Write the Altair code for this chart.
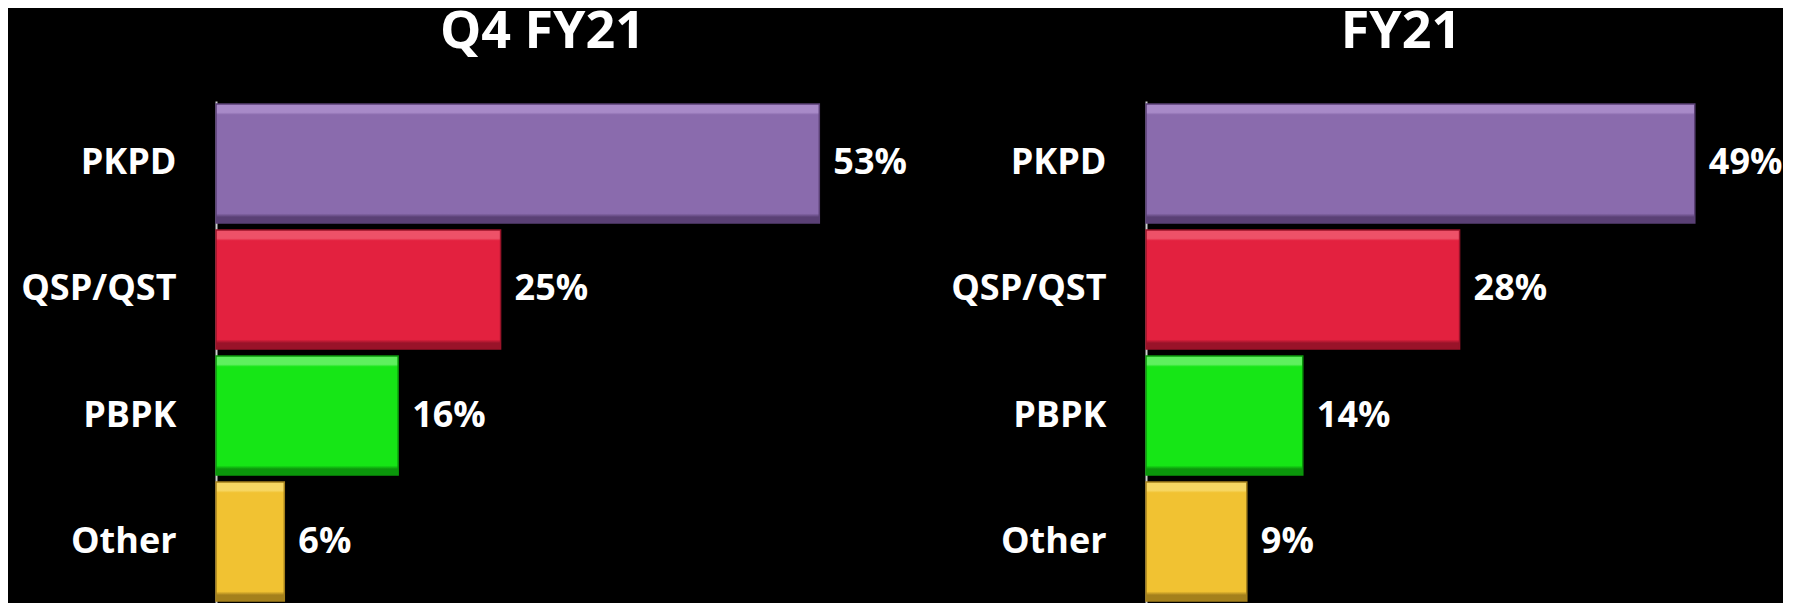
import altair as alt
import pandas as pd

categories = ["PKPD", "QSP/QST", "PBPK", "Other"]
q4_fy21 = [53, 25, 16, 6]
fy21 = [49, 28, 14, 9]
bar_colors = ["#8A6BAD", "#E3213F", "#16E616", "#F1C232"]
light_colors = ["#A88AC8", "#EE5168", "#5EF05E", "#F7D763"]
dark_colors = ["#5A4075", "#991329", "#0B960B", "#A4801C"]

FONT = "Open Sans"


def panel(title, values, xmax, width, dx):
    df = pd.DataFrame({
        "cat": categories,
        "val": values,
        "label": [f"{v}%" for v in values],
    })
    y = alt.Y(
        "cat:N",
        sort=categories,
        scale=alt.Scale(paddingInner=0.056, paddingOuter=0.024),
        axis=alt.Axis(
            title=None, labelFont=FONT, labelFontSize=36, labelFontWeight="bold",
            labelColor="white", labelPadding=40, ticks=False,
            domainColor="#cfcfcf", domainWidth=2, grid=False,
        ),
    )
    x = alt.X("val:Q", scale=alt.Scale(domain=[0, xmax]), axis=None)
    layers = []
    for c, base, lt, dk in zip(categories, bar_colors, light_colors, dark_colors):
        grad = {
            "gradient": "linear", "x1": 0, "y1": 0, "x2": 0, "y2": 1,
            "stops": [
                {"offset": 0.0, "color": lt},
                {"offset": 0.07, "color": lt},
                {"offset": 0.09, "color": base},
                {"offset": 0.92, "color": base},
                {"offset": 0.95, "color": dk},
                {"offset": 1.0, "color": dk},
            ],
        }
        layers.append(
            alt.Chart(df)
            .transform_filter(alt.datum.cat == c)
            .mark_bar(color=grad, stroke=dk, strokeWidth=1.5)
            .encode(x=x, y=y)
        )
    text = alt.Chart(df).mark_text(
        align="left", baseline="middle", dx=14, font=FONT, fontSize=36,
        fontWeight="bold", color="white",
    ).encode(x=x, y=y, text="label:N")
    return alt.layer(*layers, text).properties(
        width=width, height=503,
        title=alt.TitleParams(
            title, font=FONT, fontSize=52, fontWeight="bold", color="white",
            anchor="middle", frame="group", offset=42, dx=dx,
        ),
    )


left = panel("Q4 FY21", q4_fy21, 60, 683, -15)
right = panel("FY21", fy21, 55, 616, -53)

chart = (
    alt.hconcat(left, right, spacing=42)
    .configure(background="black", padding={"left": 12, "top": -3, "right": 0, "bottom": 0})
    .configure_view(stroke="transparent")
)

chart.save("out.html", embed_options={"renderer": "svg", "actions": False})
